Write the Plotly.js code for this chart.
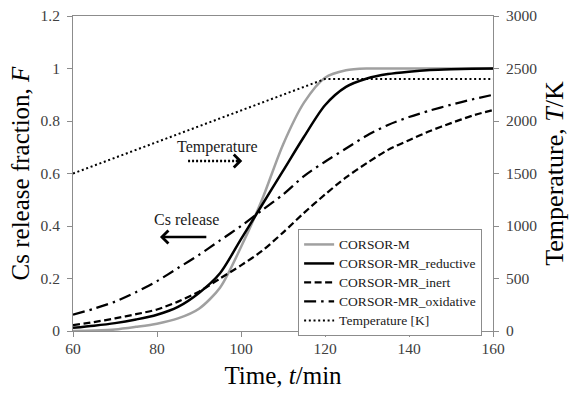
<!DOCTYPE html>
<html>
<head>
<meta charset="utf-8">
<script src="https://cdn.plot.ly/plotly-3.0.1.min.js"></script>
<style>html,body{margin:0;padding:0;background:#fff}#chart{width:572px;height:393px}</style>
</head>
<body>
<div id="chart"></div>
<script>
// ---- data ----
const timeMin = [60,65,70,75,80,85,90,95,100,105,110,115,120,125,130,135,140,145,150,155,160];
const corsorM = [0.0,0.002,0.006,0.016,0.028,0.048,0.085,0.165,0.32,0.5,0.71,0.87,0.965,0.993,1.0,1.0,1.0,1.0,1.0,1.0,1.0];
const reductive = [0.012,0.02,0.03,0.044,0.062,0.092,0.145,0.22,0.35,0.48,0.61,0.74,0.86,0.93,0.962,0.979,0.988,0.994,0.997,0.999,1.0];
const inert = [0.022,0.034,0.048,0.064,0.082,0.112,0.15,0.2,0.25,0.305,0.375,0.45,0.52,0.585,0.64,0.69,0.727,0.762,0.792,0.82,0.842];
const oxidative = [0.062,0.085,0.112,0.148,0.19,0.24,0.29,0.345,0.4,0.46,0.52,0.59,0.645,0.695,0.745,0.785,0.815,0.84,0.862,0.882,0.9];
const temperatureK = [1500,1575,1650,1725,1800,1875,1950,2025,2100,2175,2250,2325,2400,2400,2400,2400,2400,2400,2400,2400,2400];
const seriesNames = ["CORSOR-M","CORSOR-MR_reductive","CORSOR-MR_inert","CORSOR-MR_oxidative","Temperature [K]"];
const xTicks = [60,80,100,120,140,160];
const yTicks = [0,0.2,0.4,0.6,0.8,1,1.2];
const y2Ticks = [0,500,1000,1500,2000,2500,3000];

const FONT = "Liberation Serif, Times New Roman, serif";
const AXC = "#8c8c8c";
const lg = n => '<span style="font-size:13.5px">' + n + '</span>';

const traces = [
  {x: timeMin, y: corsorM, name: lg(seriesNames[0]), mode: "lines", line: {color: "#a0a0a0", width: 2.5, shape: "spline", smoothing: 0.8}},
  {x: timeMin, y: reductive, name: lg(seriesNames[1]), mode: "lines", line: {color: "#000", width: 2.5, shape: "spline", smoothing: 0.8}},
  {x: timeMin, y: inert, name: lg(seriesNames[2]), mode: "lines", line: {color: "#000", width: 2.25, dash: "7px,3.5px", shape: "spline", smoothing: 0.8}},
  {x: timeMin, y: oxidative, name: lg(seriesNames[3]), mode: "lines", line: {color: "#000", width: 2.25, dash: "12px,5px,2.5px,5px", shape: "spline", smoothing: 0.8}},
  {x: timeMin, y: temperatureK, name: lg(seriesNames[4]), yaxis: "y2", mode: "lines", line: {color: "#000", width: 2, dash: "2px,2.7px"}}
];

const layout = {
  width: 572, height: 393,
  margin: {l: 73, r: 79, t: 16, b: 62},
  paper_bgcolor: "#fff", plot_bgcolor: "#fff",
  font: {family: FONT, size: 15, color: "#404040"},
  showlegend: true,
  legend: {x: 0.536, y: 0.324, xanchor: "left", yanchor: "top", bgcolor: "#fff",
           bordercolor: AXC, borderwidth: 1, font: {family: FONT, size: 11, color: "#1a1a1a"},
           tracegroupgap: 0, itemwidth: 30},
  xaxis: {range: [60,160], tickvals: xTicks, ticks: "outside", ticklen: 5, tickcolor: AXC,
          showline: true, linecolor: AXC, linewidth: 1, mirror: true, showgrid: false, zeroline: false,
          tickfont: {family: FONT, size: 15.5, color: "#404040"}, ticklabelstandoff: -2,
          title: {text: "Time, <i>t</i>/min", font: {family: FONT, size: 25, color: "#000"}, standoff: 10}},
  yaxis: {range: [0,1.2], tickvals: yTicks, ticks: "outside", ticklen: 5, tickcolor: AXC,
          showline: true, linecolor: AXC, linewidth: 1, showgrid: false, zeroline: false,
          tickfont: {family: FONT, size: 15.5, color: "#404040"}, ticklabelstandoff: 4,
          title: {text: "Cs release fraction, <i>F</i>", font: {family: FONT, size: 25, color: "#000"}, standoff: 3}},
  yaxis2: {range: [0,3000], tickvals: y2Ticks, overlaying: "y", side: "right", ticks: "outside", ticklen: 5, tickcolor: AXC,
           showline: true, linecolor: AXC, linewidth: 1, showgrid: false, zeroline: false,
           tickfont: {family: FONT, size: 15.5, color: "#404040"}, ticklabelstandoff: 4,
           title: {text: "Temperature, <i>T</i>/K", font: {family: FONT, size: 26, color: "#000"}, standoff: 8}},
  shapes: [
    {type: "line", xref: "x", yref: "y", x0: 87.4, y0: 0.648, x1: 99.0, y1: 0.648,
     line: {color: "#000", width: 2.5, dash: "2px,2px"}}
  ],
  annotations: [
    {x: 94.3, y: 0.70, xref: "x", yref: "y", text: "Temperature", showarrow: false,
     font: {family: FONT, size: 16, color: "#1a1a1a"}},
    {x: 100.3, y: 0.648, xref: "x", yref: "y", ax: -8, ay: 0, text: "", showarrow: true,
     arrowhead: 4, arrowsize: 1, arrowwidth: 2.5, arrowcolor: "#000"},
    {x: 87.0, y: 0.423, xref: "x", yref: "y", text: "Cs release", showarrow: false,
     font: {family: FONT, size: 16, color: "#1a1a1a"}},
    {x: 80.7, y: 0.358, xref: "x", yref: "y", ax: 92.1, ay: 0.358, axref: "x", ayref: "y", text: "", showarrow: true,
     arrowhead: 4, arrowsize: 1, arrowwidth: 2.5, arrowcolor: "#000"}
  ]
};

Plotly.newPlot("chart", traces, layout, {staticPlot: true, displayModeBar: false});
</script>
</body>
</html>
